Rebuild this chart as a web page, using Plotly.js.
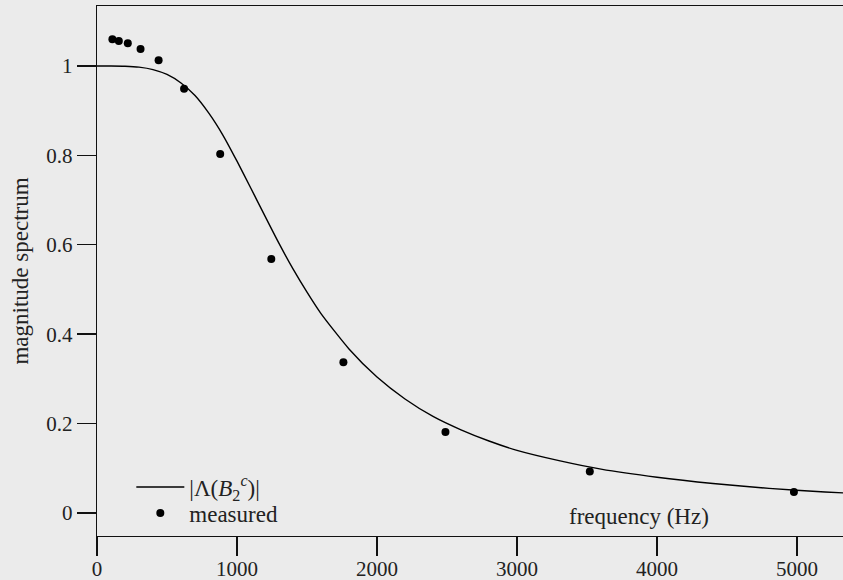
<!DOCTYPE html>
<html>
<head>
<meta charset="utf-8">
<script src="https://cdn.plot.ly/plotly-3.0.1.min.js"></script>
<style>html,body{margin:0;padding:0;background:#ebebeb;}#chart{width:843px;height:580px;}</style>
</head>
<body>
<div id="chart"></div>
<script>
// Curve |Λ(B2c)| values
var curveFreq = [0, 100, 200, 300, 400, 500, 600, 700, 800, 900, 1000, 1100, 1200, 1300, 1400, 1500, 1600, 1800, 2000, 2200, 2400, 2600, 2800, 3000, 3300, 3600, 4000, 4400, 4800, 5200, 5400];
var curveMag  = [1.0, 1.0, 0.9995, 0.9975, 0.992, 0.981, 0.962, 0.934, 0.894, 0.845, 0.787, 0.726, 0.664, 0.603, 0.546, 0.494, 0.446, 0.367, 0.304, 0.255, 0.216, 0.186, 0.161, 0.140, 0.117, 0.098, 0.080, 0.066, 0.055, 0.047, 0.044];

// Measured points
var measFreq = [110, 156, 220, 311, 440, 622, 880, 1245, 1760, 2489, 3520, 4978];
var measMag  = [1.060, 1.056, 1.051, 1.038, 1.013, 0.949, 0.803, 0.568, 0.337, 0.181, 0.093, 0.047];

var yTicks = [0, 0.2, 0.4, 0.6, 0.8, 1];
var yTickText = ['0', '0.2', '0.4', '0.6', '0.8', '1'];
var xTicks = [0, 1000, 2000, 3000, 4000, 5000];
var xTickText = ['0', '1000', '2000', '3000', '4000', '5000'];

var serif = 'Liberation Serif, DejaVu Serif, serif';

var traces = [
  {
    x: curveFreq, y: curveMag, type: 'scatter', mode: 'lines',
    line: {color: '#000', width: 1.4, shape: 'spline', smoothing: 0.6},
    name: '|Λ(<i>B</i><sub>2</sub><sup><i>c</i></sup>)|',
    legend: 'legend'
  },
  {
    x: measFreq, y: measMag, type: 'scatter', mode: 'markers',
    marker: {color: '#000', size: 8},
    name: 'measured',
    legend: 'legend2'
  }
];

var legFont = {family: serif, size: 23, color: '#222'};

var layout = {
  width: 843, height: 580,
  paper_bgcolor: '#ebebeb', plot_bgcolor: '#ebebeb',
  margin: {l: 97, r: 0, t: 6, b: 44},
  font: {family: serif, size: 21, color: '#222'},
  showlegend: true,
  legend: {
    x: 0.046, y: 0.0925, xanchor: 'left', yanchor: 'middle',
    bgcolor: 'rgba(0,0,0,0)', borderwidth: 0, font: legFont, itemwidth: 48
  },
  legend2: {
    x: 0.046, y: 0.0434, xanchor: 'left', yanchor: 'middle',
    bgcolor: 'rgba(0,0,0,0)', borderwidth: 0, font: legFont, itemwidth: 48
  },
  xaxis: {
    range: [0, 5328.6], showgrid: false, zeroline: false,
    showline: true, linecolor: '#111', linewidth: 1.4, mirror: true,
    ticks: 'outside', ticklen: 19, tickwidth: 1.4, tickcolor: '#111',
    tickvals: xTicks, ticktext: xTickText, ticklabelstandoff: -6,
    tickfont: {family: serif, size: 21, color: '#222'}
  },
  yaxis: {
    range: [-0.0515, 1.1342], showgrid: false, zeroline: false,
    showline: true, linecolor: '#111', linewidth: 1.4,
    ticks: 'outside', ticklen: 19, tickwidth: 1.4, tickcolor: '#111',
    tickvals: yTicks, ticktext: yTickText,
    tickfont: {family: serif, size: 21, color: '#222'},
    title: {text: 'magnitude spectrum', font: {family: serif, size: 23, color: '#222'}, standoff: 11}
  },
  annotations: [
    {
      text: 'frequency (Hz)', xref: 'x', yref: 'y', x: 3871, y: -0.008,
      xanchor: 'center', yanchor: 'middle', showarrow: false,
      font: {family: serif, size: 23, color: '#222'}
    }
  ]
};

Plotly.newPlot('chart', traces, layout, {staticPlot: true, displayModeBar: false});
</script>
</body>
</html>
